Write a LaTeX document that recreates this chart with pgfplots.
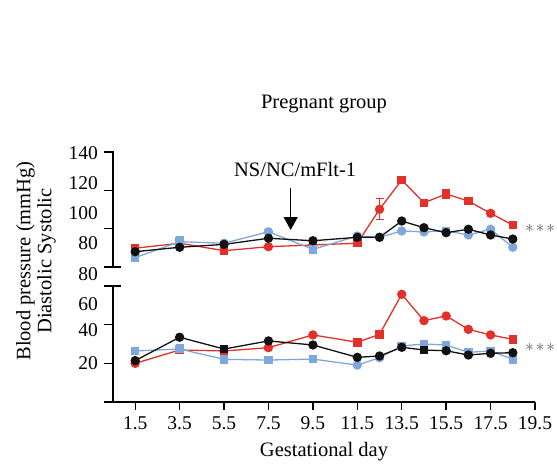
\documentclass[border=0pt]{standalone}
\usepackage{fontspec}
\setmainfont{Liberation Serif}
\usepackage{pgfplots}
\pgfplotsset{compat=1.18}
\usetikzlibrary{arrows.meta}
\definecolor{myred}{HTML}{E3302A}
\definecolor{myblue}{HTML}{7EA8DC}
\definecolor{myblack}{HTML}{111111}
\tikzset{yax/.style={line width=1.4pt, black, line cap=rect}}
\pgfplotsset{
  bp/.style={scale only axis, width=422pt, xmin=0.5, xmax=19.5, clip=false,
    axis line style={line width=1.4pt, black},
    major tick style={line width=1.4pt, black},
    major tick length=8pt, tick align=outside,
    ytick=\empty, axis y line=none,
    /pgf/number format/assume math mode=true,
    tick label style={font=\fontsize{19.5}{22}\selectfont},
    scatter/classes={
      rc={mark=*,myred,mark size=4pt},
      rs={mark=square*,myred,mark size=3.6pt},
      bc={mark=*,myblue,mark size=4pt},
      bs={mark=square*,myblue,mark size=3.6pt},
      kc={mark=*,myblack,mark size=4pt},
      ks={mark=square*,myblack,mark size=3.6pt}}
  },
  ser/.style={line width=1.3pt, color=#1, scatter, point meta=explicit symbolic},
  eser/.style={line width=1.3pt, color=#1, scatter, point meta=explicit symbolic,
    error bars/.cd, y dir=both, y explicit,
    error bar style={line width=1.2pt, color=#1},
    error mark options={line width=1.2pt, mark size=4pt, color=#1, rotate=90}}
}
\begin{document}
\begin{tikzpicture}
\path[use as bounding box] (0,0) rectangle (557pt,-464pt);
% upper (systolic)
\begin{axis}[bp, at={(113pt,-267pt)}, anchor=south west, height=115pt,
  ymin=80, ymax=140, axis x line=none]
\draw[yax] (axis cs:0.5,80) -- (axis cs:0.5,140);
\draw[yax] ([xshift=-8.5pt]axis cs:0.5,140) -- (axis cs:0.5,140);
\draw[yax] ([xshift=-8.5pt]axis cs:0.5,120) -- (axis cs:0.5,120);
\draw[yax] ([xshift=-8.5pt]axis cs:0.5,100) -- (axis cs:0.5,100);
\draw[yax] ([xshift=-8.5pt]axis cs:0.5,80) -- ([xshift=7pt]axis cs:0.5,80);
\addplot+[eser=myred] coordinates {
(1.5,89.8) +- (0,1) [rs]
(3.5,92.4) +- (0,1.5) [rs]
(5.5,88.5) +- (0,1) [rs]
(7.5,90.6) +- (0,0.8) [rc]
(9.5,91.5) +- (0,0.8) [rc]
(11.5,92.4) +- (0,1) [rs]
(12.5,110.1) +- (0,5.5) [rc]
(13.5,125.4) +- (0,2) [rs]
(14.5,113.5) +- (0,1.2) [rs]
(15.5,118.1) +- (0,2.3) [rs]
(16.5,114.4) +- (0,1.5) [rs]
(17.5,108.0) +- (0,1) [rc]
(18.5,101.9) +- (0,1) [rs]
};
\addplot+[eser=myblue] coordinates {
(1.5,84.9) +- (0,1) [bs]
(3.5,93.2) +- (0,2.5) [bs]
(5.5,92.4) +- (0,0.8) [bc]
(7.5,98.4) +- (0,1) [bc]
(9.5,89.2) +- (0,1) [bs]
(11.5,96.2) +- (0,0.8) [bc]
(12.5,95.5) +- (0,0.8) [bc]
(13.5,98.8) +- (0,0.8) [bc]
(14.5,98.3) +- (0,0.8) [bc]
(15.5,98.9) +- (0,1) [bs]
(16.5,96.7) +- (0,0.8) [bc]
(17.5,99.7) +- (0,1) [bc]
(18.5,90.3) +- (0,0.8) [bc]
};
\addplot+[ser=myblack] coordinates {
(1.5,88.0) [kc] (3.5,90.3) [kc] (5.5,91.8) [kc] (7.5,95.0) [kc]
(9.5,93.7) [kc] (11.5,95.5) [kc] (12.5,95.5) [kc] (13.5,104.0) [kc]
(14.5,100.5) [kc] (15.5,97.9) [kc] (16.5,99.7) [kc] (17.5,96.7) [kc]
(18.5,94.6) [kc]
};
\draw[line width=1.3pt, -{Triangle[length=13pt,width=14pt]}] (axis cs:8.5,121) -- (axis cs:8.5,99.3);
\node[font=\fontsize{20.5}{24}\selectfont] at (axis cs:8.7,131.1) {NS/NC/mFlt-1};
\end{axis}
% lower (diastolic)
\begin{axis}[bp, at={(113pt,-402pt)}, anchor=south west, height=116pt,
  ymin=0, ymax=60,
  xtick={1.5,3.5,5.5,7.5,9.5,11.5,13.5,15.5,17.5,19.5},
  xticklabels={1.5,3.5,5.5,7.5,9.5,11.5,13.5,15.5,17.5,19.5},
  xticklabel style={yshift=-3pt},
  axis x line*=bottom]
\draw[yax] (axis cs:0.5,0) -- (axis cs:0.5,60);
\draw[yax] ([xshift=-8.5pt]axis cs:0.5,0) -- (axis cs:0.5,0);
\draw[yax] ([xshift=-8.5pt]axis cs:0.5,20) -- (axis cs:0.5,20);
\draw[yax] ([xshift=-8.5pt]axis cs:0.5,40) -- (axis cs:0.5,40);
\draw[yax] ([xshift=-8.5pt]axis cs:0.5,60) -- ([xshift=7pt]axis cs:0.5,60);
\addplot+[eser=myred] coordinates {
(1.5,20.0) +- (0,0.8) [rc]
(3.5,26.9) +- (0,1) [rs]
(5.5,26.4) +- (0,0.8) [rs]
(7.5,28.1) +- (0,0.8) [rc]
(9.5,34.7) +- (0,0.8) [rc]
(11.5,30.9) +- (0,1.8) [rs]
(12.5,35.0) +- (0,1) [rs]
(13.5,55.7) +- (0,0.8) [rc]
(14.5,42.1) +- (0,0.8) [rc]
(15.5,44.5) +- (0,0.8) [rc]
(16.5,37.6) +- (0,0.8) [rc]
(17.5,34.7) +- (0,0.8) [rc]
(18.5,32.4) +- (0,1.8) [rs]
};
\addplot+[eser=myblue] coordinates {
(1.5,26.4) +- (0,1.2) [bs]
(3.5,27.4) +- (0,2.5) [bs]
(5.5,22.1) +- (0,1) [bs]
(7.5,21.7) +- (0,1.8) [bs]
(9.5,22.2) +- (0,1) [bs]
(11.5,19.1) +- (0,0.8) [bc]
(12.5,22.9) +- (0,0.8) [bc]
(13.5,29.0) +- (0,1.5) [bs]
(14.5,30.0) +- (0,1) [bs]
(15.5,29.5) +- (0,1) [bs]
(16.5,25.7) +- (0,1) [bs]
(17.5,26.4) +- (0,1.2) [bs]
(18.5,22.1) +- (0,1.8) [bs]
};
\addplot+[ser=myblack] coordinates {
(1.5,21.4) [kc] (3.5,33.5) [kc] (5.5,27.4) [ks] (7.5,31.6) [kc]
(9.5,29.5) [kc] (11.5,23.1) [kc] (12.5,23.8) [kc] (13.5,28.3) [kc]
(14.5,26.9) [ks] (15.5,26.5) [kc] (16.5,24.3) [kc] (17.5,25.2) [kc]
(18.5,25.5) [kc]
};
\end{axis}
% y tick labels as in the reference
\begin{scope}[every node/.style={anchor=east, font=\fontsize{19.5}{22}\selectfont, inner sep=0pt}]
\node at (98pt,-153pt) {140};
\node at (98pt,-183pt) {120};
\node at (98pt,-213pt) {100};
\node at (98pt,-243pt) {80};
\node at (98pt,-274pt) {80};
\node at (98pt,-304pt) {60};
\node at (98pt,-330pt) {40};
\node at (98pt,-363pt) {20};
\end{scope}
\node[font=\fontsize{20.5}{24}\selectfont] at (324pt,-104pt) {Pregnant group};
\node[font=\fontsize{20.5}{24}\selectfont, anchor=base] at (324pt,-456pt) {Gestational day};
\node[font=\fontsize{20.5}{21}\selectfont, rotate=90, align=center] at (36pt,-261pt) {Blood pressure (mmHg)\\Diastolic Systolic};
\node[anchor=west, text=black!65, font=\fontsize{19}{20}\selectfont, inner sep=0pt] at (525pt,-228pt) {$\ast\mkern-2mu\ast\mkern-2mu\ast$};
\node[anchor=west, text=black!65, font=\fontsize{19}{20}\selectfont, inner sep=0pt] at (525pt,-347pt) {$\ast\mkern-2mu\ast\mkern-2mu\ast$};
\end{tikzpicture}
\end{document}
